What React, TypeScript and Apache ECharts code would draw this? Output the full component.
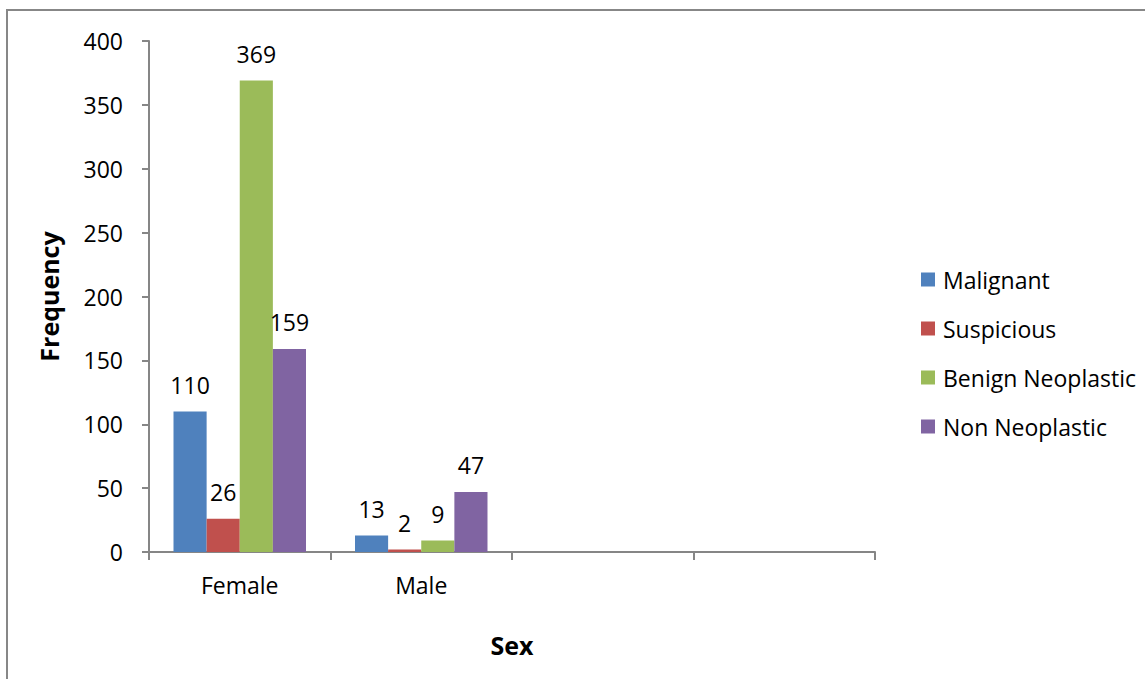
import React, { useEffect, useRef } from "react";
import * as echarts from "echarts";

const categories = ["Female", "Male", " ", "  "];
const seriesNames = ["Malignant", "Suspicious", "Benign Neoplastic", "Non Neoplastic"];
const malignant = [110, 13];
const suspicious = [26, 2];
const benignNeoplastic = [369, 9];
const nonNeoplastic = [159, 47];
const colors = ["#4F81BD", "#C0504D", "#9BBB59", "#8064A2"];
const yTicks = { min: 0, max: 400, interval: 50 };

const FONT = "'Open Sans', sans-serif";

export default function App() {
  const ref = useRef<HTMLDivElement>(null);
  useEffect(() => {
    if (!ref.current) return;
    const chart = echarts.init(ref.current, undefined, { renderer: "svg" });
    const values = [malignant, suspicious, benignNeoplastic, nonNeoplastic];
    chart.setOption({
      animation: false,
      backgroundColor: "#ffffff",
      textStyle: { fontFamily: FONT },
      graphic: [
        {
          type: "rect",
          shape: { x: 7, y: 10, width: 1300, height: 900 },
          style: { fill: "none", stroke: "#878787", lineWidth: 2 },
          silent: true,
        },
      ],
      grid: { left: 149, right: 270, top: 41, bottom: 127, containLabel: false },
      legend: {
        orient: "vertical",
        left: 916,
        top: 263,
        itemWidth: 14,
        itemHeight: 14,
        itemGap: 26,
        icon: "rect",
        textStyle: { fontSize: 23, color: "#000", fontFamily: FONT, lineHeight: 22, padding: [0, 0, 0, 3] },
        data: seriesNames,
      },
      xAxis: {
        type: "category",
        data: categories,
        name: "Sex",
        nameLocation: "middle",
        nameGap: 80,
        nameTextStyle: { fontSize: 25, fontWeight: "bold", color: "#000", fontFamily: FONT },
        axisLine: { lineStyle: { color: "#868686", width: 2 } },
        axisTick: { show: true, length: 8, alignWithLabel: false, lineStyle: { color: "#868686", width: 2 } },
        axisLabel: { fontSize: 23, color: "#000", margin: 21, fontFamily: FONT },
      },
      yAxis: {
        type: "value",
        min: yTicks.min,
        max: yTicks.max,
        interval: yTicks.interval,
        name: "Frequency",
        nameLocation: "middle",
        nameGap: 88,
        nameTextStyle: { fontSize: 25, fontWeight: "bold", color: "#000", fontFamily: FONT },
        splitLine: { show: false },
        axisLine: { show: true, lineStyle: { color: "#868686", width: 2 } },
        axisTick: { show: true, length: 7, lineStyle: { color: "#868686", width: 2 } },
        axisLabel: { fontSize: 23, color: "#000", margin: 26, fontFamily: FONT },
      },
      series: seriesNames.map((name, i) => ({
        name,
        type: "bar",
        data: values[i],
        barGap: "0%",
        barCategoryGap: "27%",
        itemStyle: { color: colors[i] },
        label: {
          show: true,
          position: "top",
          distance: 15,
          fontSize: 23,
          color: "#000",
          fontFamily: FONT,
        },
      })),
    });
    return () => chart.dispose();
  }, []);
  return (
    <div
      ref={ref}
      style={{ position: "fixed", left: 0, top: 0, width: 1145, height: 679 }}
    />
  );
}
